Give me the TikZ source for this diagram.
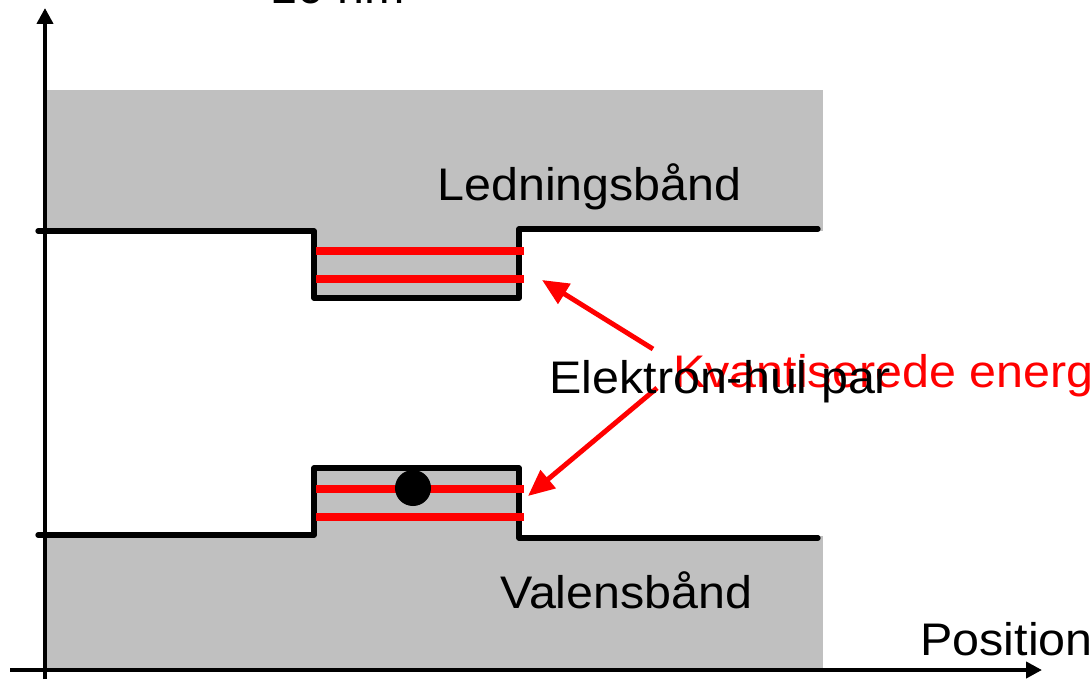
\documentclass[tikz,border=0pt]{standalone}
\usepackage{fontspec}
\setmainfont[FakeStretch=1.06]{Liberation Sans}
\usetikzlibrary{arrows.meta}
\definecolor{bandgray}{RGB}{192,192,192}
\tikzset{
  lbl/.style={anchor=base west, inner sep=0pt, font=\fontsize{26}{31}\selectfont},
  axis/.style={line width=2.4pt, -{Triangle[length=9pt,width=9pt]}},
  edge/.style={line width=3pt, line join=round, line cap=round},
  level/.style={red, line width=4pt},
  pointer/.style={red, line width=2.8pt, -{Triangle[length=15pt,width=13pt]}},
}
\begin{document}
\begin{tikzpicture}[x=0.02cm,y=-0.02cm]
\useasboundingbox (0,0) rectangle (1091,679);
% bands
\fill[bandgray] (45,90) rectangle (823,231);
\fill[bandgray] (314,229) rectangle (519,298);
\fill[bandgray] (314,468) rectangle (519,537);
\fill[bandgray] (45,536) rectangle (823,670);
% band edges
\draw[edge] (38,231) -- (314,231) -- (314,298) -- (519,298) -- (519,229) -- (818,229);
\draw[edge] (38,535) -- (314,535) -- (314,468) -- (519,468) -- (519,538) -- (818,538);
% quantized levels
\coordinate (l1a) at (316,251); \coordinate (l1b) at (524,251);
\coordinate (l2a) at (316,279); \coordinate (l2b) at (524,279);
\coordinate (l3a) at (316,489); \coordinate (l3b) at (524,489);
\coordinate (l4a) at (316,517); \coordinate (l4b) at (524,517);
\draw[level] (l1a) -- (l1b);
\draw[level] (l2a) -- (l2b);
\draw[level] (l3a) -- (l3b);
\draw[level] (l4a) -- (l4b);
% hole/electron dot
\node[circle, fill=black, inner sep=0pt, minimum size=20.5pt] (dot) at (413,488) {};
% axes
\coordinate (yb) at (45,679); \coordinate (yt) at (45,8);
\coordinate (xl) at (10,670); \coordinate (xr) at (1042,670);
\draw[axis] (yb) -- (yt);
\draw[axis] (xl) -- (xr);
% labels
\node[lbl] (top) at (270,4) {10 nm};
\node[lbl] (cb) at (437,200) {Ledningsbånd};
\node[lbl] (vb) at (500,608) {Valensbånd};
\node[lbl] (pos) at (920,655) {Position};
\node[lbl, text=red] (kv) at (673,387) {Kvantiserede energiniveauer};
% pointers
\coordinate (p1s) at (653,349); \coordinate (p1e) at (542,280);
\coordinate (p2s) at (657,388); \coordinate (p2e) at (528,496);
\draw[pointer] (p1s) -- (p1e);
\draw[pointer] (p2s) -- (p2e);
\node[lbl] (ehp) at (549,393) {Elektron-hul par};
\end{tikzpicture}
\end{document}
